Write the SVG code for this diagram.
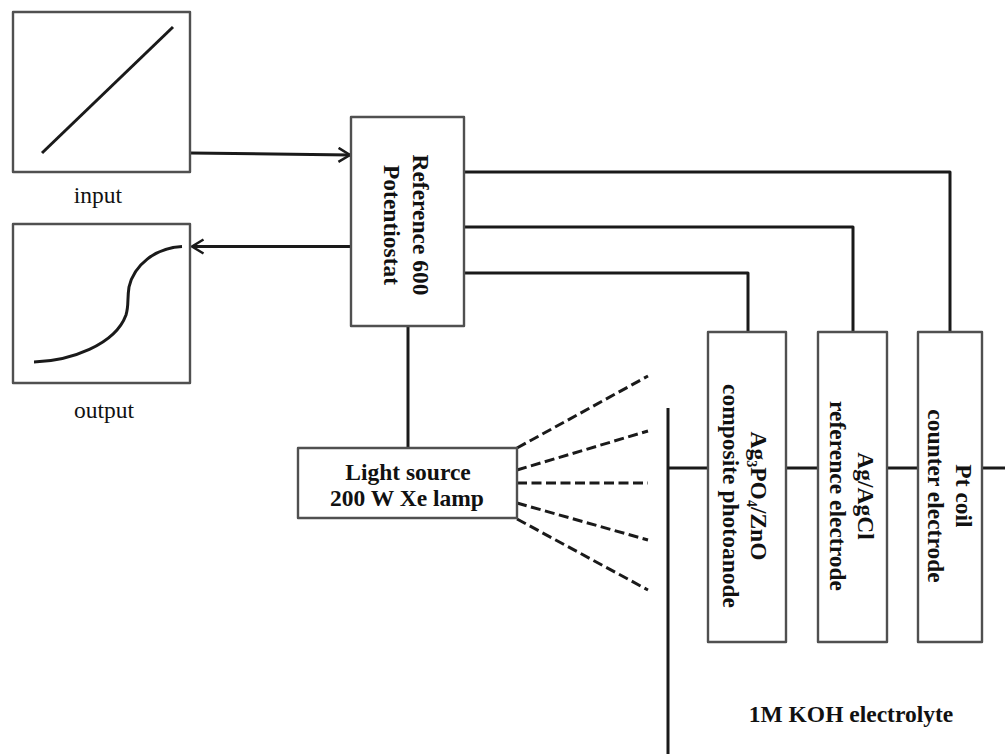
<svg xmlns="http://www.w3.org/2000/svg" width="1005" height="754" viewBox="0 0 1005 754">
<defs>
<marker id="arr" markerUnits="userSpaceOnUse" markerWidth="16" markerHeight="18" refX="13" refY="8" orient="auto"><path d="M1.500,1L13,8L1.500,15" fill="none" stroke="#1a1a1a" stroke-width="2.500"/></marker>
</defs>
<style>
.box{fill:#fff;stroke:#505050;stroke-width:2.400;stroke-linejoin:round}
.w{fill:none;stroke:#1a1a1a;stroke-width:3;stroke-linejoin:round}
.d{fill:none;stroke:#1a1a1a;stroke-width:3;stroke-dasharray:10 4.500}
text{font-family:"Liberation Serif","Times New Roman",serif;fill:#111;text-anchor:middle;font-size:23.500px}
.b{font-weight:bold}
</style>
<rect width="1005" height="754" fill="#fff"/>
<g id="connectors">
<path class="w" d="M190,153L350,155" marker-end="url(#arr)"/>
<path class="w" d="M351,246.500L192,246.500" marker-end="url(#arr)"/>
<path class="w" d="M464,172H950V332"/>
<path class="w" d="M464,227H853V332"/>
<path class="w" d="M464,273H748V332"/>
<path class="w" d="M408,326V448"/>
<path class="d" d="M517,448L648,376"/>
<path class="d" d="M517,470L648,431"/>
<path class="d" d="M517,483H648"/>
<path class="d" d="M517,503L648,540"/>
<path class="d" d="M517,519L648,590"/>
<path class="w" d="M668,408V754"/>
<path class="w" d="M668,468H1005"/>
</g>
<g id="input-plot">
<rect class="box" x="13" y="12" width="177" height="160"/>
<path class="w" d="M42,153L173,27"/>
<text x="98" y="203">input</text>
</g>
<g id="output-plot">
<rect class="box" x="13" y="224" width="177" height="159"/>
<path class="w" d="M34,362C70,361 115,345 126,315C129,305 127,300 129,287C134,265 155,248 182,246.500"/>
<text x="104" y="418">output</text>
</g>
<g id="potentiostat">
<rect class="box" x="351" y="117" width="113" height="209"/>
<text class="b" transform="translate(413,225) rotate(90)">Reference 600</text>
<text class="b" transform="translate(384,225) rotate(90)">Potentiostat</text>
</g>
<g id="light-source">
<rect class="box" x="298" y="448" width="219" height="70"/>
<text class="b" x="408" y="480">Light source</text>
<text class="b" x="407" y="506">200 W Xe lamp</text>
</g>
<g id="photoanode">
<rect class="box" x="708" y="332" width="78" height="310"/>
<text class="b" transform="translate(751,496) rotate(90)">Ag<tspan font-size="14" dy="4">3</tspan><tspan dy="-4">PO</tspan><tspan font-size="14" dy="4">4</tspan><tspan dy="-4">/ZnO</tspan></text>
<text class="b" transform="translate(723,496) rotate(90)">composite photoanode</text>
</g>
<g id="reference-electrode">
<rect class="box" x="818" y="332" width="69" height="310"/>
<text class="b" transform="translate(858,496) rotate(90)">Ag/AgCl</text>
<text class="b" transform="translate(830,496) rotate(90)">reference electrode</text>
</g>
<g id="counter-electrode">
<rect class="box" x="918" y="332" width="64" height="310"/>
<text class="b" transform="translate(956,496) rotate(90)">Pt coil</text>
<text class="b" transform="translate(928,496) rotate(90)">counter electrode</text>
</g>
<g id="electrolyte">
<text class="b" x="851" y="722">1M KOH electrolyte</text>
</g>
</svg>
